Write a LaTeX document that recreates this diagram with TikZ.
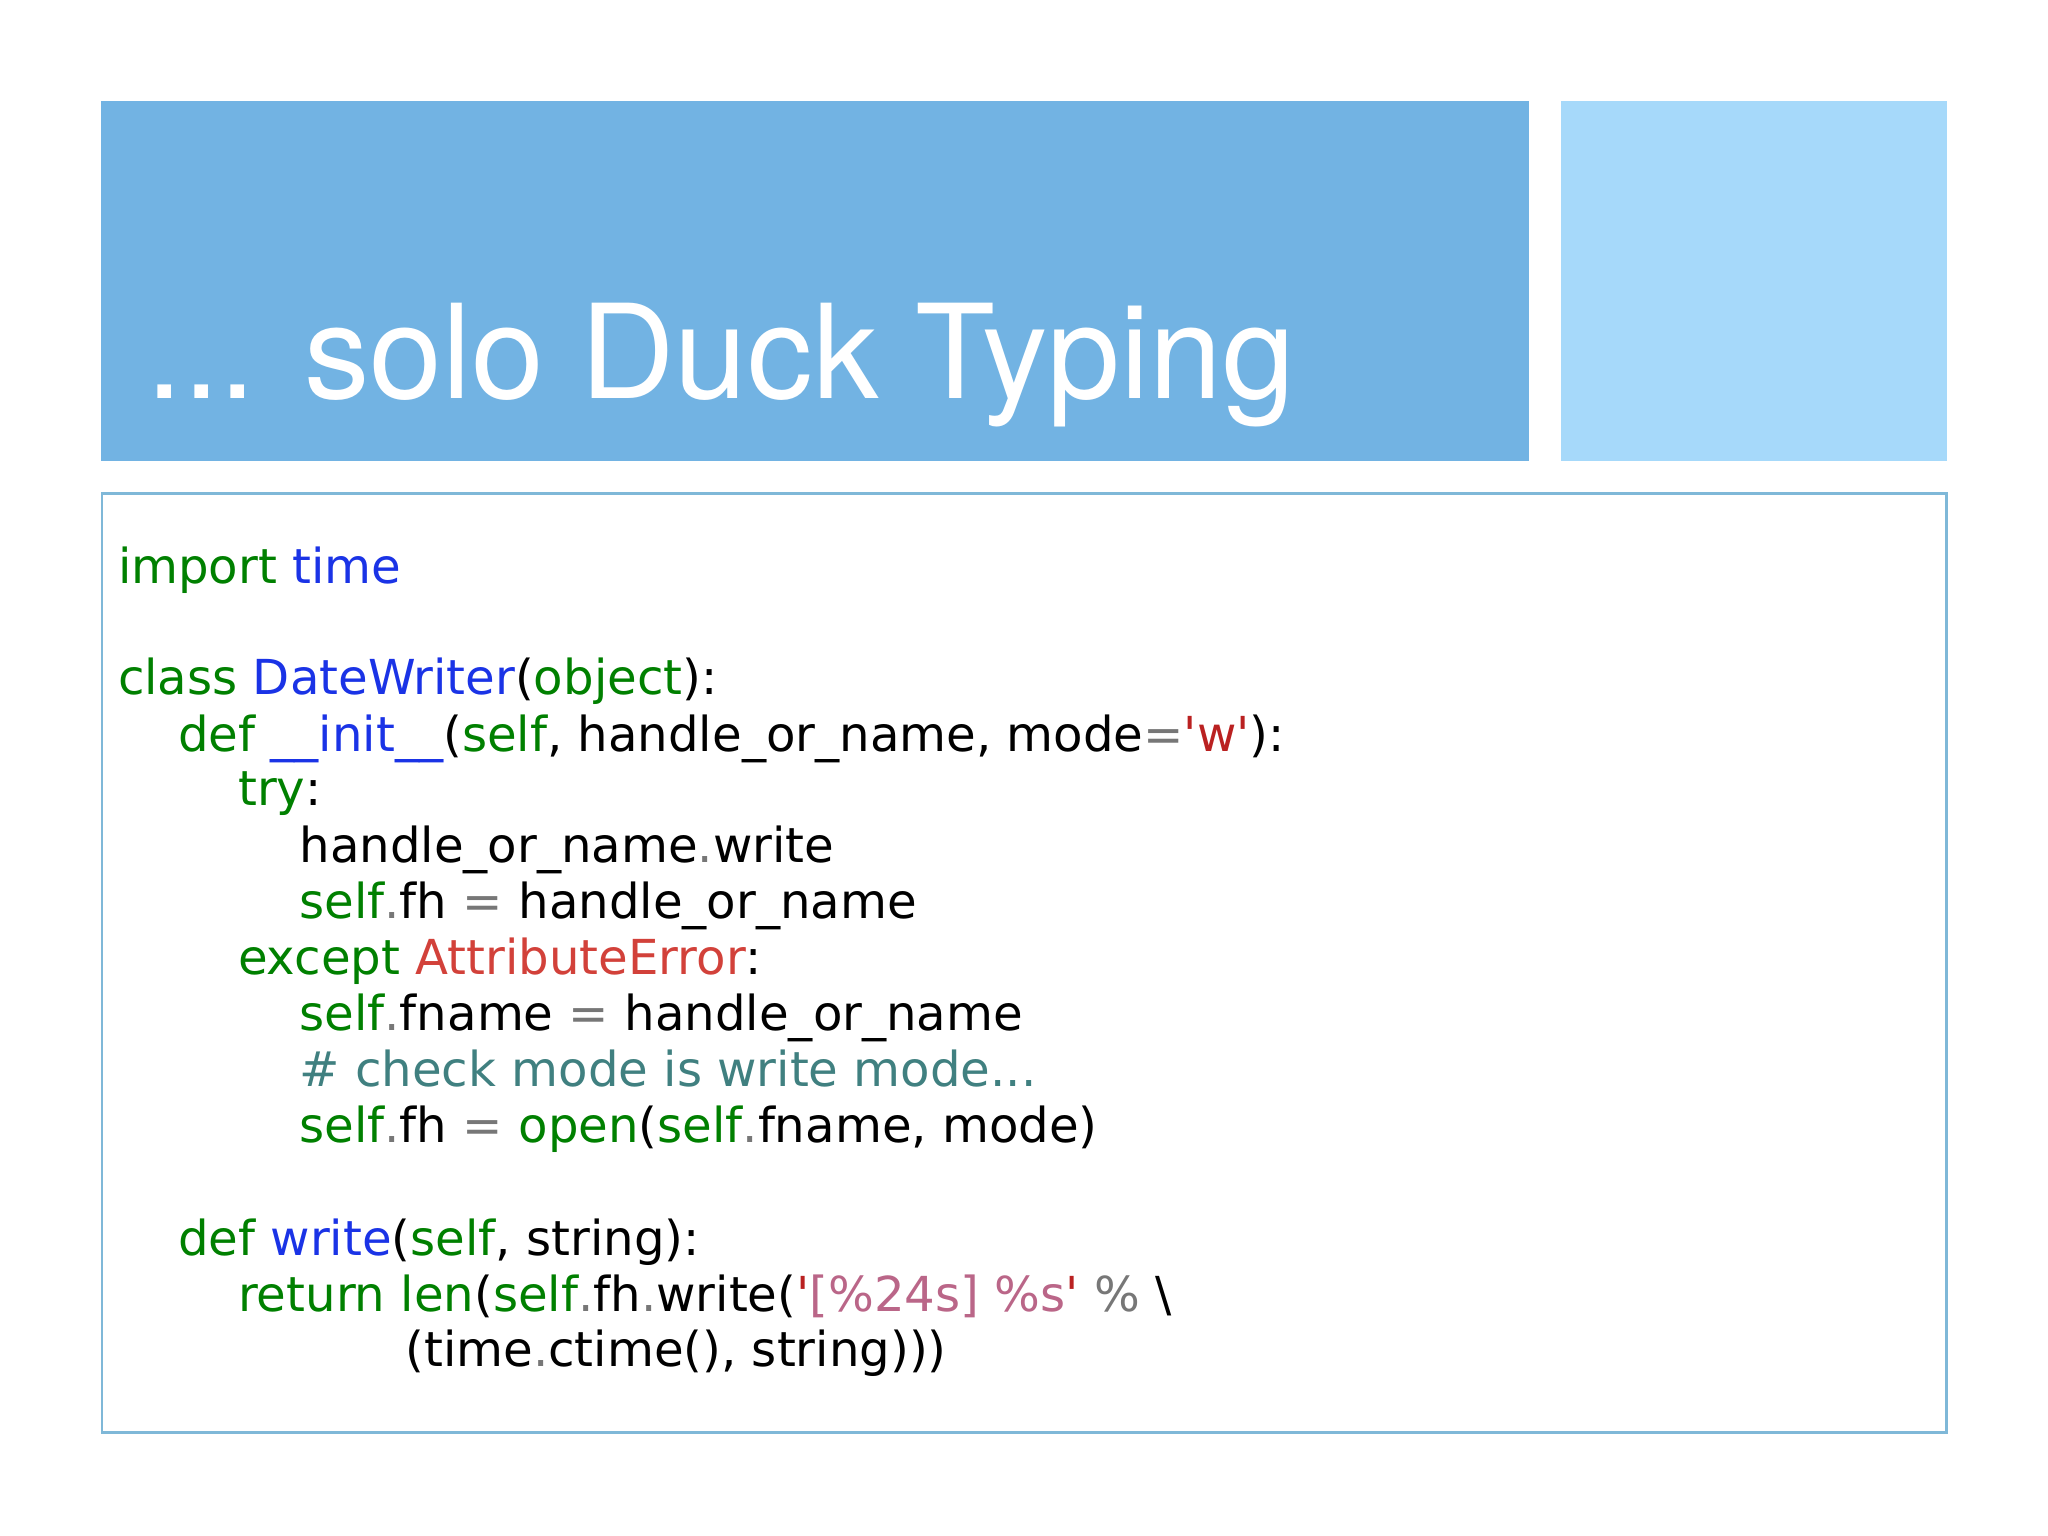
\documentclass[tikz,border=0pt]{standalone}
\usepackage{fontspec}
\setmainfont{TeX Gyre Heros}
\newfontfamily\codefont{DejaVu Sans}
\definecolor{hdark}{HTML}{72B3E3}
\definecolor{hlight}{HTML}{A6D9FA}
\definecolor{boxb}{HTML}{7FB8D8}
\definecolor{ckw}{HTML}{008000}
\definecolor{cnm}{HTML}{1A33E6}
\definecolor{cstr}{HTML}{BA2121}
\definecolor{cerr}{HTML}{D2413A}
\definecolor{ccom}{HTML}{408080}
\definecolor{cfmt}{HTML}{BA6688}
\definecolor{cop}{HTML}{777777}
\newcommand{\kw}[1]{\textcolor{ckw}{#1}}
\newcommand{\nm}[1]{\textcolor{cnm}{#1}}
\newcommand{\op}[1]{\textcolor{cop}{#1}}
\begin{document}
\begin{tikzpicture}[x=0.02cm,y=-0.02cm,
  code/.style={anchor=base west,inner sep=0pt,font=\codefont\fontsize{21}{24}\selectfont}]
\useasboundingbox (0,0) rectangle (1568,1176);
\fill[hdark] (77,77) rectangle (1171,353);
\fill[hlight] (1195,77) rectangle (1491,353);
\node[anchor=base west,inner sep=0pt,text=white,font=\fontsize{57}{60}\selectfont] (title) at (112,305) {... solo Duck Typing};
\draw[boxb,line width=1.2pt] (78,378) rectangle (1490,1097);
\node[code] (l1) at (90,447) {\kw{import} \nm{time}};
\node[code] (l2) at (90,532) {\kw{class} \nm{DateWriter}(\kw{object}):};
\node[code] (l3) at (136,575) {\kw{def} \nm{\_\_init\_\_}(\kw{self}, handle\_or\_name, mode\op{=}\textcolor{cstr}{'w'}):};
\node[code] (l4) at (182,617) {\kw{try}:};
\node[code] (l5) at (229,660) {handle\_or\_name\op{.}write};
\node[code] (l6) at (229,703) {\kw{self}\op{.}fh \op{=} handle\_or\_name};
\node[code] (l7) at (182,746) {\kw{except} \textcolor{cerr}{AttributeError}:};
\node[code] (l8) at (229,789) {\kw{self}\op{.}fname \op{=} handle\_or\_name};
\node[code] (l9) at (229,832) {\textcolor{ccom}{\# check mode is write mode...}};
\node[code] (l10) at (229,875) {\kw{self}\op{.}fh \op{=} \kw{open}(\kw{self}\op{.}fname, mode)};
\node[code] (l11) at (136,961) {\kw{def} \nm{write}(\kw{self}, string):};
\node[code] (l12) at (182,1004) {\kw{return} \kw{len}(\kw{self}\op{.}fh\op{.}write(\textcolor{cstr}{'}\textcolor{cfmt}{[\%24s] \%s}\textcolor{cstr}{'} \op{\%} \textbackslash};
\node[code] (l13) at (310,1046) {(time\op{.}ctime(), string)))};
\end{tikzpicture}
\end{document}
